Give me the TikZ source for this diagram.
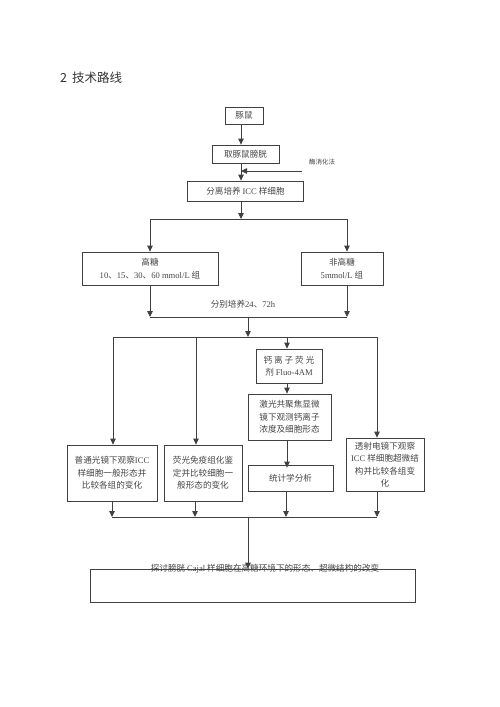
\documentclass[tikz,border=0pt]{standalone}
\usepackage{fontspec}
\setmainfont{Liberation Serif}
\newfontfamily\cjk{Noto Sans CJK SC}
\newfontfamily\latf{Liberation Serif}
\newcommand\lat[1]{{\latf #1}}
\usetikzlibrary{arrows.meta}
\definecolor{ln}{HTML}{404040}
\definecolor{tx}{HTML}{454545}
\tikzset{
  box/.style={draw=ln, line width=0.8pt, rectangle, inner sep=0pt, align=center,
    font=\cjk\fontsize{8.6}{12.5}\selectfont, text=tx},
  lbl/.style={inner sep=0pt, font=\cjk\fontsize{8.6}{12}\selectfont, text=tx},
  arr/.style={draw=ln, line width=0.8pt, -{Triangle[width=5.5pt,length=6pt]}},
  ln/.style={draw=ln, line width=0.8pt}
}
\begin{document}
\begin{tikzpicture}[x=1pt,y=-1pt]
\useasboundingbox (0,0) rectangle (500,707);
\node[inner sep=0pt, anchor=west, font=\cjk\fontsize{12.5}{14}\selectfont, text=black!80] (title) at (60,78) {2\hspace{5pt}技术路线};

\node[box, minimum width=38pt, minimum height=17pt] (pig) at (244,115.5) {豚鼠};
\node[box, minimum width=67pt, minimum height=18pt] (bladder) at (245.5,154) {取豚鼠膀胱};
\node[box, minimum width=116pt, minimum height=20pt] (sep) at (245.5,191) {分离培养 \lat{ICC} 样细胞};
\node[lbl, font=\cjk\fontsize{6.5}{8}\selectfont] (enz) at (322,162) {酶消化法};

\node[box, minimum width=136pt, minimum height=33pt] (high) at (150,268.5) {高糖\\\lat{10}、\lat{15}、\lat{30}、\lat{60 mmol/L} 组};
\node[box, minimum width=82pt, minimum height=33pt] (nonhigh) at (342,268.5) {非高糖\\\lat{5mmol/L} 组};
\node[lbl] (cult) at (243,304) {分别培养\lat{24}、\lat{72h}};

\node[box, minimum width=66pt, minimum height=34pt] (ca) at (289,366) {钙 离 子 荧 光\\剂 \lat{Fluo-4AM}};
\node[box, minimum width=83pt, minimum height=46pt] (laser) at (289.5,417) {激光共聚焦显微\\镜下观测钙离子\\浓度及细胞形态};
\node[box, minimum width=90pt, minimum height=56pt] (normal) at (112,473) {普通光镜下观察\lat{ICC}\\样细胞一般形态并\\比较各组的变化};
\node[box, minimum width=78pt, minimum height=56pt] (fluor) at (203,473) {荧光免疫组化鉴\\定并比较细胞一\\般形态的变化};
\node[box, minimum width=85pt, minimum height=26pt] (stat) at (290.5,478) {统计学分析};
\node[box, minimum width=78pt, minimum height=53pt] (tem) at (385,464.5) {透射电镜下观察\\\lat{ICC} 样细胞超微结\\构并比较各组变\\化};
\node[box, minimum width=325pt, minimum height=33pt] (final) at (252.5,585.5) {};
\node[lbl] (finaltext) at (265,569) {探讨膀胱 \lat{Cajal} 样细胞在高糖环境下的形态、超微结构的改变};

% spine coordinates
\coordinate (s1) at (241,0);
\coordinate (e1) at (302,171);
\coordinate (j1) at (241,219);
\coordinate (j1l) at (150,219);
\coordinate (j1r) at (347,219);
\coordinate (j2l) at (150,317);
\coordinate (j2r) at (347,317);
\coordinate (j2c) at (248,317);
\coordinate (j3c) at (248,337);
\coordinate (j3a) at (113,337);
\coordinate (j3b) at (196,337);
\coordinate (j3d) at (377,337);
\coordinate (j4a) at (112,517);
\coordinate (j4b) at (195,517);
\coordinate (j4c) at (286,517);
\coordinate (j4d) at (377,517);
\coordinate (j4m) at (248,517);
\coordinate (j3cc) at (287,337);

\draw[arr] (pig.south -| s1) -- (bladder.north -| s1);
\draw[arr] (bladder.south -| s1) -- (sep.north -| s1);
\draw[arr] (e1) -- (e1 -| s1);
\draw[arr] (sep.south -| s1) -- (j1);
\draw[ln] (j1l) -- (j1r);
\draw[arr] (j1l) -- (high.north -| j1l);
\draw[arr] (j1r) -- (nonhigh.north -| j1r);
\draw[arr] (high.south -| j2l) -- (j2l);
\draw[arr] (nonhigh.south -| j2r) -- (j2r);
\draw[ln] (j2l) -- (j2r);
\draw[arr] (j2c) -- (j3c);
\draw[ln] (j3a) -- (j3d);
\draw[arr] (j3a) -- (normal.north -| j3a);
\draw[arr] (j3b) -- (fluor.north -| j3b);
\draw[arr] (j3cc) -- (ca.north -| j3cc);
\draw[arr] (j3d) -- (tem.north -| j3d);
\draw[arr] (ca.south -| j3cc) -- (laser.north -| j3cc);
\draw[arr] (laser.south -| j3cc) -- ([yshift=-3pt]stat.north -| j3cc);
\draw[arr] (normal.south -| j4a) -- (j4a);
\draw[arr] (fluor.south -| j4b) -- (j4b);
\draw[arr] (stat.south -| j4c) -- (j4c);
\draw[arr] (tem.south -| j4d) -- (j4d);
\draw[ln] (j4a) -- (j4d);
\draw[arr] (j4m) -- (final.north -| j4m);
\end{tikzpicture}
\end{document}
